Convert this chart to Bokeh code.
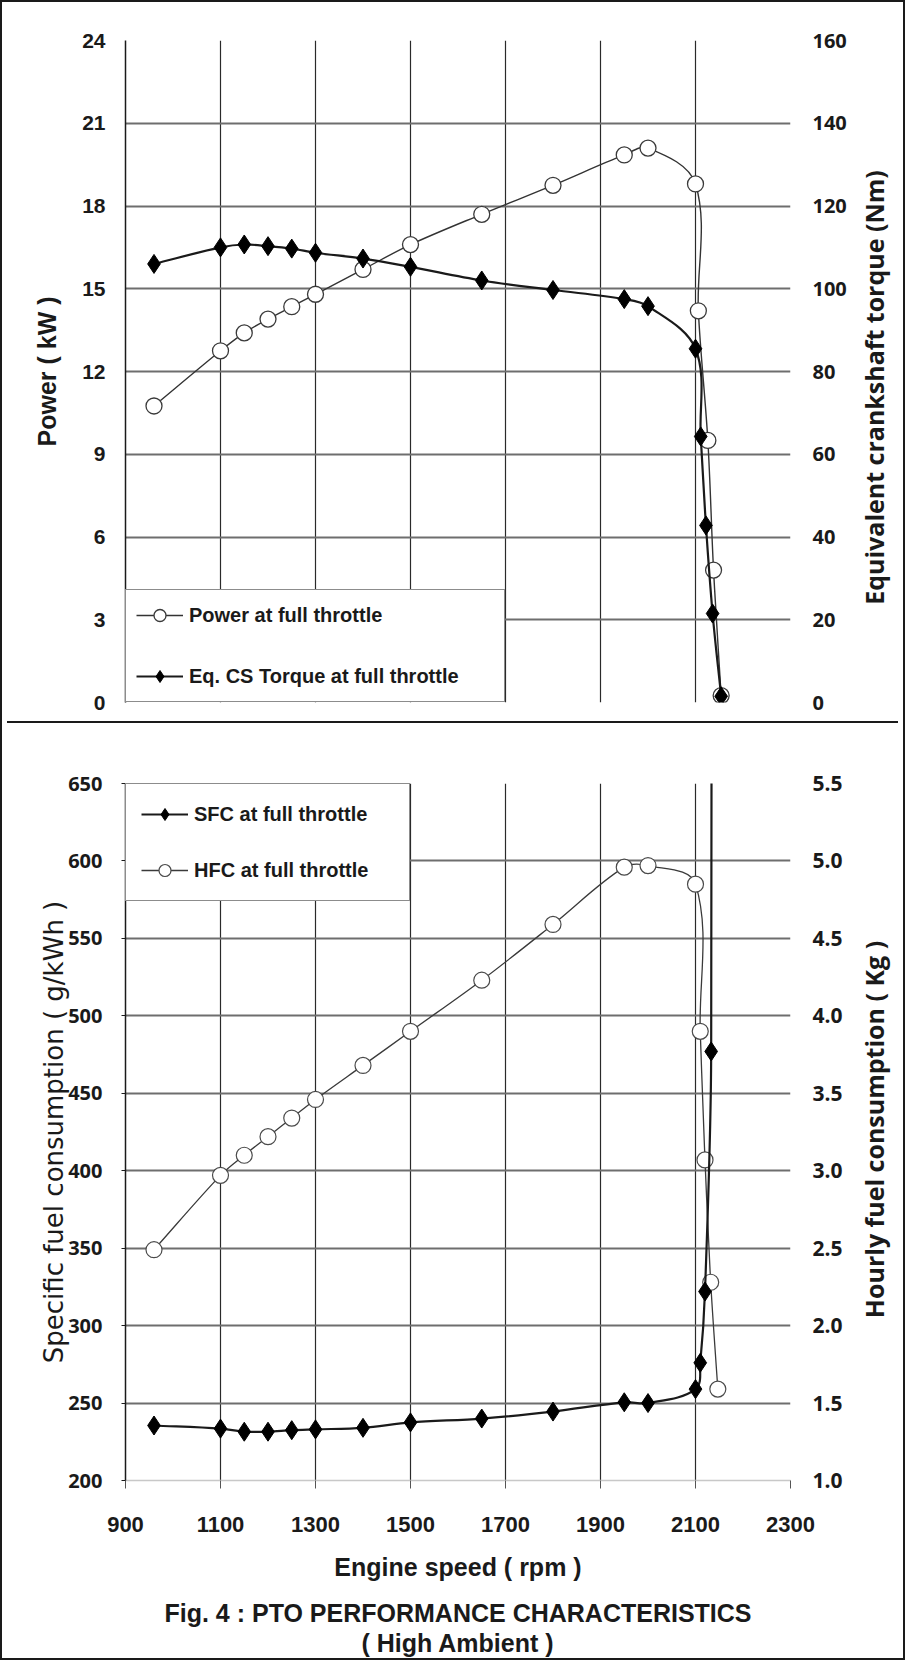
import math
from bokeh.plotting import figure
from bokeh.models import (Range1d, LinearAxis, FixedTicker, Legend, LegendItem,
                          ColumnDataSource, Div, Label, Title, PrintfTickFormatter)
from bokeh.layouts import column
from bokeh.embed import file_html
from bokeh.resources import INLINE

# ---------------- data ----------------
speed_ticks = [900, 1100, 1300, 1500, 1700, 1900, 2100, 2300]
power_ticks = [0, 3, 6, 9, 12, 15, 18, 21, 24]
torque_ticks = [0, 20, 40, 60, 80, 100, 120, 140, 160]
sfc_ticks = [200, 250, 300, 350, 400, 450, 500, 550, 600, 650]
hfc_ticks = [1.0, 1.5, 2.0, 2.5, 3.0, 3.5, 4.0, 4.5, 5.0, 5.5]

power_rpm = [960, 1100, 1150, 1200, 1250, 1300, 1400, 1500, 1650, 1800, 1950, 2000, 2100, 2106, 2126, 2138, 2154]
power_kw = [10.75, 12.75, 13.4, 13.9, 14.35, 14.8, 15.7, 16.6, 17.7, 18.75, 19.85, 20.1, 18.8, 14.2, 9.5, 4.8, 0.25]

torque_rpm = [960, 1100, 1150, 1200, 1250, 1300, 1400, 1500, 1650, 1800, 1950, 2000, 2100, 2111, 2122, 2136, 2154]
torque_nm = [106.0, 110.0, 110.7, 110.3, 109.7, 108.7, 107.3, 105.3, 102.0, 99.7, 97.5, 95.8, 85.5, 64.3, 42.8, 21.5, 1.5]

sfc_rpm = [960, 1100, 1150, 1200, 1250, 1300, 1400, 1500, 1650, 1800, 1950, 2000, 2100, 2110, 2120, 2133, 2150]
sfc_gkwh = [235.5, 233.5, 231.5, 231.5, 232.5, 233.0, 234.0, 237.5, 240.0, 244.5, 250.5, 250.0, 259.0, 276.0, 322.0, 477.0, 6900.0]

hfc_rpm = [960, 1100, 1150, 1200, 1250, 1300, 1400, 1500, 1650, 1800, 1950, 2000, 2100, 2110, 2120, 2132, 2147]
hfc_kg = [2.49, 2.97, 3.10, 3.22, 3.34, 3.46, 3.68, 3.90, 4.23, 4.59, 4.96, 4.97, 4.85, 3.90, 3.07, 2.28, 1.59]

# ---------------- styling constants ----------------
FONT_A = "Liberation Sans"
FONT_B = "Open Sans"
FONT_C = "DejaVu Sans"
INK = "#1a1a1a"
FRAME_W = 665
TOP_H = 662
BOT_H = 697
X0, X1 = 900, 2300
PX_X = FRAME_W / float(X1 - X0)          # pixels per rpm


def smooth_source(xs, ys, px_x, px_y):
    """Bezier control points for an Excel-like smoothed line through the data."""
    X = [v * px_x for v in xs]
    Y = [v * px_y for v in ys]
    n = len(X)
    tx, ty = [], []
    for i in range(n):
        a, b = max(i - 1, 0), min(i + 1, n - 1)
        dx, dy = X[b] - X[a], Y[b] - Y[a]
        L = math.hypot(dx, dy) or 1.0
        tx.append(dx / L)
        ty.append(dy / L)
    d = dict(x0=[], y0=[], x1=[], y1=[], cx0=[], cy0=[], cx1=[], cy1=[])
    for i in range(n - 1):
        h = math.hypot(X[i + 1] - X[i], Y[i + 1] - Y[i]) / 3.0
        d["x0"].append(xs[i]); d["y0"].append(ys[i])
        d["x1"].append(xs[i + 1]); d["y1"].append(ys[i + 1])
        d["cx0"].append((X[i] + tx[i] * h) / px_x)
        d["cy0"].append((Y[i] + ty[i] * h) / px_y)
        d["cx1"].append((X[i + 1] - tx[i + 1] * h) / px_x)
        d["cy1"].append((Y[i + 1] - ty[i + 1] * h) / px_y)
    return ColumnDataSource(d)


def base_fig(top, frame_h, bottom, y0, y1):
    p = figure(output_backend="svg", toolbar_location=None,
               x_range=Range1d(X0, X1), y_range=Range1d(y0, y1),
               frame_width=FRAME_W, frame_height=frame_h,
               min_border_left=123, min_border_right=103,
               min_border_top=top, min_border_bottom=bottom)
    p.outline_line_color = None
    p.background_fill_color = "white"
    p.border_fill_color = "white"
    p.xgrid.ticker = FixedTicker(ticks=speed_ticks[1:-1])
    p.xgrid.grid_line_color = "#2a2a2a"
    p.xgrid.grid_line_width = 1.2
    p.ygrid.grid_line_color = "#6e6e6e"
    p.ygrid.grid_line_width = 2
    return p


def style_axis(ax, font, size, standoff, tick_out):
    ax.major_label_text_font = font
    ax.major_label_text_font_size = size
    ax.major_label_text_font_style = "bold"
    ax.major_label_text_color = INK
    ax.major_label_standoff = standoff
    ax.major_tick_out = tick_out
    ax.major_tick_in = 0
    ax.minor_tick_out = 0
    ax.minor_tick_in = 0
    ax.major_tick_line_color = INK
    ax.axis_label_text_color = INK


def side_title(p, text, y_mid, px_right, font, size):
    """Rotated (bottom-to-top) title in the right-hand panel."""
    lab = Label(x=X1 + px_right / PX_X, y=y_mid, text=text, angle=math.pi / 2,
                angle_units="rad", text_align="center", text_baseline="middle",
                text_font=font, text_font_size=size, text_font_style="bold",
                text_color=INK)
    p.add_layout(lab, "right")


# ======================= TOP CHART =======================
p1 = base_fig(38, TOP_H, 14, 0, 24)
p1.extra_y_ranges = {"torque": Range1d(0, 160)}
p1.ygrid.ticker = FixedTicker(ticks=power_ticks[1:])
p1.xaxis.visible = False

ly = p1.yaxis[0]
ly.ticker = FixedTicker(ticks=power_ticks)
style_axis(ly, FONT_A, "21px", 20, 0)
ly.axis_line_color = INK
ly.axis_line_width = 1.5
ly.axis_label = "Power ( kW )"
ly.axis_label_text_font = FONT_A
ly.axis_label_text_font_size = "25px"
ly.axis_label_text_font_style = "bold"
ly.axis_label_standoff = 18

ry = LinearAxis(y_range_name="torque", ticker=FixedTicker(ticks=torque_ticks))
style_axis(ry, FONT_B, "20px", 22, 0)
ry.axis_line_color = None
p1.add_layout(ry, "right")
side_title(p1, "Equivalent crankshaft torque (Nm)", 12 - 16 / (TOP_H / 24.0), 83, FONT_B, "25px")

src_pw = smooth_source(power_rpm, power_kw, PX_X, TOP_H / 24.0)
src_tq = smooth_source(torque_rpm, torque_nm, PX_X, TOP_H / 160.0)

pw_line = p1.bezier(x0="x0", y0="y0", x1="x1", y1="y1", cx0="cx0", cy0="cy0",
                    cx1="cx1", cy1="cy1", source=src_pw, line_color="#333333", line_width=1.4)
pw_pts = p1.scatter(power_rpm, power_kw, marker="circle", size=16,
                    fill_color="white", line_color="#3a3a3a", line_width=1.3)
tq_line = p1.bezier(x0="x0", y0="y0", x1="x1", y1="y1", cx0="cx0", cy0="cy0",
                    cx1="cx1", cy1="cy1", source=src_tq, y_range_name="torque",
                    line_color=INK, line_width=2.2)
tq_pts = p1.scatter(torque_rpm, torque_nm, marker="diamond", size=19,
                    fill_color="black", line_color="black", y_range_name="torque")

leg1 = Legend(items=[LegendItem(label="Power at full throttle", renderers=[pw_line, pw_pts]),
                     LegendItem(label="Eq. CS Torque at full throttle", renderers=[tq_line, tq_pts])],
              location="bottom_left", margin=0, padding=10, spacing=31,
              label_height=30, glyph_height=30, glyph_width=47, label_standoff=6,
              label_width=305, label_text_font=FONT_A, label_text_font_size="20px",
              label_text_font_style="bold", label_text_color=INK,
              border_line_color=INK, border_line_width=1.5,
              background_fill_color="white", background_fill_alpha=1.0)
p1.add_layout(leg1)

# ======================= BOTTOM CHART =======================
p2 = base_fig(55, BOT_H, 178, 200, 650)
p2.extra_y_ranges = {"hfc": Range1d(1.0, 5.5)}
p2.ygrid.ticker = FixedTicker(ticks=sfc_ticks[1:])

bx = p2.xaxis[0]
bx.ticker = FixedTicker(ticks=speed_ticks)
style_axis(bx, FONT_A, "22px", 28, 8)
bx.axis_line_color = "#c8c8c8"
bx.axis_line_width = 1.5
bx.major_tick_line_color = "#555555"

by = p2.yaxis[0]
by.ticker = FixedTicker(ticks=sfc_ticks)
style_axis(by, FONT_B, "20px", 19, 4)
by.axis_line_color = INK
by.axis_line_width = 1.5
by.axis_label = "Specific fuel consumption ( g/kWh )"
by.axis_label_text_font = FONT_C
by.axis_label_text_font_size = "26px"
by.axis_label_text_font_style = "normal"
by.axis_label_standoff = -4

hy = LinearAxis(y_range_name="hfc", ticker=FixedTicker(ticks=hfc_ticks),
                formatter=PrintfTickFormatter(format="%.1f"))
style_axis(hy, FONT_B, "21px", 22, 0)
hy.axis_line_color = None
p2.add_layout(hy, "right")
SFC_PX = BOT_H / 450.0
side_title(p2, "Hourly fuel consumption ( Kg )", 425 + 2.5 / SFC_PX, 83, FONT_B, "25px")

src_sfc = smooth_source(sfc_rpm, sfc_gkwh, PX_X, SFC_PX)
src_hfc = smooth_source(hfc_rpm, hfc_kg, PX_X, BOT_H / 4.5)

hfc_line = p2.bezier(x0="x0", y0="y0", x1="x1", y1="y1", cx0="cx0", cy0="cy0",
                     cx1="cx1", cy1="cy1", source=src_hfc, y_range_name="hfc",
                     line_color="#3a3a3a", line_width=1.3)
hfc_pts = p2.scatter(hfc_rpm, hfc_kg, marker="circle", size=16, y_range_name="hfc",
                     fill_color="white", line_color="#4a4a4a", line_width=1.2)
sfc_line = p2.bezier(x0="x0", y0="y0", x1="x1", y1="y1", cx0="cx0", cy0="cy0",
                     cx1="cx1", cy1="cy1", source=src_sfc,
                     line_color=INK, line_width=2.2)
sfc_pts = p2.scatter(sfc_rpm, sfc_gkwh, marker="diamond", size=19,
                     fill_color="black", line_color="black")

leg2 = Legend(items=[LegendItem(label="SFC at full throttle", renderers=[sfc_line, sfc_pts]),
                     LegendItem(label="HFC at full throttle", renderers=[hfc_line, hfc_pts])],
              location="top_left", margin=0, padding=15, spacing=26,
              label_height=30, glyph_height=30, glyph_width=47, label_standoff=6,
              label_width=200, label_text_font=FONT_A, label_text_font_size="20px",
              label_text_font_style="bold", label_text_color=INK,
              border_line_color=INK, border_line_width=1.5,
              background_fill_color="white", background_fill_alpha=1.0)
p2.add_layout(leg2)

for txt, stand in [("Engine speed ( rpm )", 32),
                   ("Fig. 4 : PTO PERFORMANCE CHARACTERISTICS", 0),
                   ("( High Ambient )", 0)]:
    p2.add_layout(Title(text=txt, align="center", offset=58, text_font=FONT_A,
                        text_font_size="25px", text_font_style="bold",
                        text_color=INK, standoff=stand), "below")

divider = Div(text="", width=891, height=2, styles={"background-color": INK})
page = column(p1, divider, p2, styles={"border": "2px solid " + INK})

open("out.html", "w").write(file_html(page, INLINE))
